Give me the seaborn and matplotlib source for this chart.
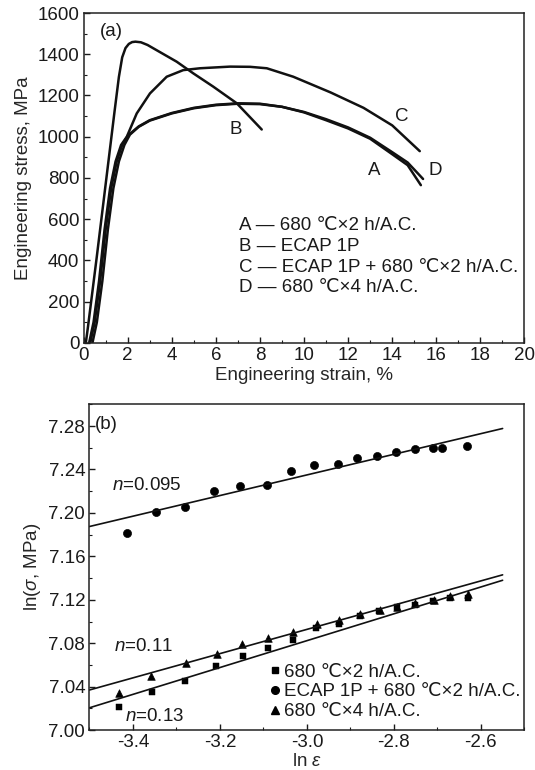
import matplotlib
matplotlib.use("Agg")
import matplotlib.pyplot as plt
import seaborn as sns
from matplotlib.ticker import MultipleLocator, FormatStrFormatter
from matplotlib.lines import Line2D

# ---- datos (a): curvas tensión-deformación ----
strain_A = [0.3, 0.5, 0.75, 1.0, 1.25, 1.5, 1.75, 2.0, 2.5, 3.0, 4.0, 5.0, 6.0, 7.0, 8.0, 9.0,
            10.0, 11.0, 12.0, 13.0, 14.0, 14.7, 15.3]
stress_A = [0, 100, 300, 550, 750, 880, 960, 1005, 1050, 1080, 1115, 1140, 1155, 1162, 1160, 1145,
            1118, 1080, 1040, 990, 915, 862, 765]

strain_B = [0.1, 0.2, 0.6, 1.0, 1.4, 1.6, 1.75, 1.9, 2.05, 2.2, 2.35, 2.6, 2.9, 3.16, 4.22, 4.98,
            5.88, 6.95, 8.08]
stress_B = [0, 80, 420, 770, 1120, 1290, 1385, 1430, 1450, 1459, 1461, 1458, 1445, 1429, 1364,
            1307, 1243, 1162, 1035]

strain_C = [0.25, 0.45, 0.7, 0.95, 1.2, 1.45, 1.7, 1.96, 2.41, 3.01, 3.77, 4.52, 5.28, 6.64, 7.55,
            8.31, 9.51, 11.2, 12.7, 14.0, 15.25]
stress_C = [0, 100, 300, 550, 750, 880, 960, 1000, 1113, 1210, 1291, 1323, 1332, 1340, 1339,
            1332, 1291, 1215, 1140, 1055, 930]

strain_D = [0.4, 0.6, 0.85, 1.1, 1.35, 1.6, 1.85, 2.1, 2.5, 3.0, 4.0, 5.0, 6.0, 7.0, 8.0, 9.0,
            10.0, 11.0, 12.0, 13.0, 14.0, 14.7, 15.4]
stress_D = [0, 100, 300, 550, 750, 880, 960, 1010, 1048, 1078, 1113, 1138, 1153, 1160, 1158, 1145,
            1120, 1085, 1045, 995, 925, 875, 795]

curve_names = ["A", "B", "C", "D"]
legend_a = ["A — 680 ℃×2 h/A.C.", "B — ECAP 1P", "C — ECAP 1P + 680 ℃×2 h/A.C.",
            "D — 680 ℃×4 h/A.C."]

# ---- datos (b): ln(sigma) vs ln(epsilon) ----
lneps_sq = [-3.431, -3.357, -3.280, -3.210, -3.147, -3.089, -3.033, -2.979, -2.927, -2.878,
            -2.835, -2.792, -2.751, -2.710, -2.671, -2.630]
lnsig_sq = [7.021, 7.035, 7.0456, 7.059, 7.068, 7.0757, 7.083, 7.094, 7.098, 7.105,
            7.110, 7.1137, 7.1156, 7.119, 7.1213, 7.122]

lneps_ci = [-3.413, -3.346, -3.280, -3.214, -3.153, -3.092, -3.037, -2.984, -2.929, -2.884,
            -2.838, -2.796, -2.751, -2.710, -2.690, -2.633]
lnsig_ci = [7.182, 7.201, 7.2056, 7.220, 7.225, 7.2255, 7.2385, 7.244, 7.2455, 7.2505,
            7.2525, 7.256, 7.2585, 7.260, 7.260, 7.2616]

lneps_tr = [-3.431, -3.358, -3.278, -3.207, -3.149, -3.089, -3.033, -2.977, -2.927, -2.878,
            -2.833, -2.792, -2.751, -2.708, -2.670, -2.630]
lnsig_tr = [7.0345, 7.050, 7.0615, 7.0697, 7.0789, 7.085, 7.090, 7.098, 7.101, 7.1067,
            7.1105, 7.1137, 7.117, 7.120, 7.1235, 7.1258]

legend_b = ["680 ℃×2 h/A.C.", "ECAP 1P + 680 ℃×2 h/A.C.", "680 ℃×4 h/A.C."]

# rectas de ajuste: valor en ln e = -3.5 y pendiente
fit_x = [-3.5, -2.55]
fit_b0 = [7.0206, 7.1875, 7.037]
fit_slope = [0.1236, 0.095, 0.1116]
fit_labels = ["$n$=0.13", "$n$=0.095", "$n$=0.11"]

FS = 13.5
sns.set_style("ticks")
plt.rcParams['font.family'] = ['Liberation Sans', 'DejaVu Sans']
plt.rcParams['mathtext.fontset'] = 'custom'
plt.rcParams['mathtext.rm'] = 'Liberation Sans'
plt.rcParams['mathtext.it'] = 'Liberation Sans:italic'
plt.rcParams['font.size'] = FS
plt.rcParams['axes.linewidth'] = 1.1
plt.rcParams['text.color'] = '#1a1a1a'

fig = plt.figure(figsize=(5.35, 7.70), dpi=100)
ax1 = fig.add_axes([0.1563, 0.5547, 0.824, 0.4284])
ax2 = fig.add_axes([0.1671, 0.0517, 0.813, 0.4232])

# ---- panel (a) ----
for xs, ys in [(strain_A, stress_A), (strain_B, stress_B), (strain_C, stress_C), (strain_D, stress_D)]:
    sns.lineplot(x=xs, y=ys, sort=False, color='#111111', lw=1.8, ax=ax1)

ax1.set_xlim(0, 20)
ax1.set_ylim(0, 1600)
ax1.xaxis.set_major_locator(MultipleLocator(2))
ax1.xaxis.set_minor_locator(MultipleLocator(1))
ax1.yaxis.set_major_locator(MultipleLocator(200))
ax1.yaxis.set_minor_locator(MultipleLocator(100))
ax1.set_xlabel("Engineering strain, %", fontsize=FS, labelpad=2)
ax1.set_ylabel("Engineering stress, MPa", fontsize=FS, labelpad=4)
ax1.text(0.73, 1509, "(a)", fontsize=FS, va='center')
for name, x, y in zip(curve_names, [13.2, 6.9, 14.45, 15.95], [836, 1037, 1100, 836]):
    ax1.text(x, y, name, fontsize=FS, ha='center', va='center')
for i, lab in enumerate(legend_a):
    ax1.text(7.05, 567 - i * 99.5, lab, fontsize=FS, va='center')

# ---- panel (b) ----
sns.scatterplot(x=lneps_sq, y=lnsig_sq, marker='s', s=18, color='k', edgecolor='k', ax=ax2)
sns.scatterplot(x=lneps_ci, y=lnsig_ci, marker='o', s=34, color='k', edgecolor='k', ax=ax2)
sns.scatterplot(x=lneps_tr, y=lnsig_tr, marker='^', s=30, color='k', edgecolor='k', ax=ax2)
for b0, m in zip(fit_b0, fit_slope):
    ys = [b0 + m * (x - fit_x[0]) for x in fit_x]
    sns.lineplot(x=fit_x, y=ys, color='#111111', lw=1.2, ax=ax2)

ax2.set_xlim(-3.5, -2.5)
ax2.set_ylim(7.00, 7.30)
ax2.set_xticks([-3.4, -3.2, -3.0, -2.8, -2.6])
ax2.set_xticklabels(["-3.4", "-3.2", "-3.0", "-2.8", "-2.6"])
ax2.xaxis.set_minor_locator(MultipleLocator(0.1))
ax2.yaxis.set_major_locator(MultipleLocator(0.04))
ax2.yaxis.set_minor_locator(MultipleLocator(0.02))
ax2.yaxis.set_major_formatter(FormatStrFormatter('%.2f'))
ax2.set_xlabel("ln $\\varepsilon$", fontsize=FS, labelpad=1)
ax2.set_ylabel("ln($\\sigma$, MPa)", fontsize=FS, labelpad=4)
ax2.text(-3.488, 7.281, "(b)", fontsize=FS, va='center')
for lab, x, y in zip(fit_labels, [-3.418, -3.447, -3.443], [7.0127, 7.2255, 7.0767]):
    ax2.text(x, y, lab, fontsize=FS, va='center')

handles = [Line2D([], [], ls='none', marker=mk, ms=ms, color='k') for mk, ms in
           [('s', 4), ('o', 5.5), ('^', 5.5)]]
ax2.legend(handles, legend_b, loc='lower left', bbox_to_anchor=(0.415, 0.03), frameon=False,
           fontsize=FS, handlelength=0.5, handletextpad=0.25, labelspacing=0.15,
           borderpad=0, borderaxespad=0)

for ax in (ax1, ax2):
    ax.tick_params(which='both', direction='in', top=False, right=False, colors='#1a1a1a')
    ax.tick_params(which='major', length=4, width=1, pad=3)
    ax.tick_params(which='minor', length=2.5, width=0.8)
    for sp in ax.spines.values():
        sp.set_visible(True)
        sp.set_color('#222222')

fig.savefig("out.png", dpi=100)
